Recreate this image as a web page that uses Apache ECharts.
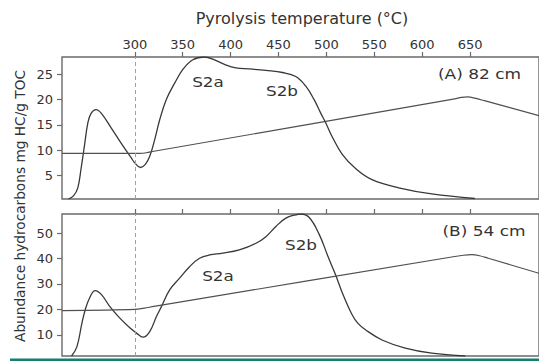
<!DOCTYPE html>
<html>
<head>
<meta charset="utf-8">
<script src="https://cdn.jsdelivr.net/npm/echarts@6/dist/echarts.min.js"></script>
<style>
  html, body { margin: 0; padding: 0; background: #fff; }
  #chart { width: 539px; height: 362px; }
</style>
</head>
<body>
<div id="chart"></div>
<script>
// Temperature ticks shared by both panels (°C)
const tempTicks = [300, 350, 400, 450, 500, 550, 600, 650];
const ticksA = [5, 10, 15, 20, 25];
const ticksB = [10, 20, 30, 40, 50];

// (A) 82 cm — pyrolysis signal
const tempA = [230.7, 236, 240.5, 244, 247.6, 251, 254.5, 259.6, 264.9, 275.3, 285.7, 296, 300, 306, 311, 315.6,
  320.8, 326, 332.9, 341.6, 350.2, 360.6, 372.8, 383.2, 393.6, 405.7, 419.5, 436.9, 454.2, 468.1, 478.5, 487.1,
  494.1, 499.3, 506.2, 516.6, 530.5, 547.7, 575.5, 610, 655];
const signalA = [0.4, 1.0, 2.6, 6.5, 11.1, 15.4, 17.3, 18.0, 17.3, 14.4, 11.4, 8.6, 7.5, 6.6, 7.2, 8.8,
  12.1, 16.0, 20.0, 23.2, 25.9, 27.8, 28.35, 27.8, 26.9, 26.2, 26.0, 25.7, 25.3, 24.5, 22.6, 20.0,
  17.3, 15.4, 12.6, 9.2, 6.4, 4.2, 2.6, 1.4, 0.5];

// (A) 82 cm — oven temperature trace
const traceTempA = [224, 305, 312, 320, 634, 641, 648, 655, 665, 722];
const traceValA = [9.4, 9.4, 9.5, 9.8, 20.1, 20.4, 20.5, 20.25, 19.75, 16.8];

// (B) 54 cm — pyrolysis signal
const tempB = [234, 239.6, 244.8, 248.2, 252.7, 258.6, 265, 274.2, 284.4, 294.8, 301.8, 308.6, 315.6, 322.6,
  327.8, 336.4, 346.8, 357.2, 367.6, 378, 391.8, 409.1, 426.5, 436.9, 447.3, 457.7, 468.1, 473.3, 481.9,
  492.3, 501.5, 509.6, 516.5, 526.9, 533, 540.8, 558.1, 582.4, 610, 645];
const signalB = [1.7, 5.4, 14.6, 19.8, 24.4, 27.4, 25.9, 21.0, 16.6, 12.8, 10.7, 9.1, 11.3, 17.2,
  21.1, 27.7, 32.3, 36.8, 40.1, 41.4, 42.1, 43.4, 46.0, 48.6, 52.6, 55.9, 57.2, 57.5, 56.2,
  49.7, 41.0, 33.6, 26.7, 17.9, 14.5, 12.0, 8.0, 4.8, 2.8, 1.7];

// (B) 54 cm — oven temperature trace
const traceTempB = [224, 300, 310, 320, 634, 643, 651.7, 660, 669, 722];
const traceValB = [19.5, 20.0, 20.5, 21.2, 40.8, 41.3, 41.5, 41.1, 40.1, 34.2];

const pair = (xs, ys) => xs.map((x, i) => [x, ys[i]]);

const FONT = 'DejaVu Sans';
const TEXT = '#333';
const FRAME = '#6a6a6a';

function xAxisFor(gridIndex, withLabels) {
  return {
    type: 'value', gridIndex, position: 'top', min: 224, max: 722,
    axisLine: { show: false },
    splitLine: { show: false },
    axisTick: { show: true, inside: false, length: 5, customValues: tempTicks,
      lineStyle: { color: FRAME, width: 1.2 } },
    axisLabel: { show: withLabels, customValues: tempTicks, margin: 6,
      fontFamily: FONT, fontSize: 13, color: TEXT }
  };
}

function yAxisFor(gridIndex, min, max, ticks) {
  return {
    type: 'value', gridIndex, min, max,
    axisLine: { show: false },
    splitLine: { show: false },
    axisTick: { show: true, inside: false, length: 5, customValues: ticks,
      lineStyle: { color: FRAME, width: 1.2 } },
    axisLabel: { customValues: ticks, margin: 9, fontFamily: FONT, fontSize: 13, color: TEXT }
  };
}

const dashed300 = {
  silent: true, symbol: ['none', 'none'], animation: false,
  label: { show: false },
  lineStyle: { type: [4, 3], color: '#a0a0a0', width: 1 },
  data: [{ xAxis: 300 }]
};

function curve(xi, data, color, width, smooth, extra) {
  return Object.assign({
    type: 'line', xAxisIndex: xi, yAxisIndex: xi, data,
    showSymbol: false, smooth, animation: false,
    lineStyle: { color, width }
  }, extra || {});
}

function label(text, x, y, size, sx) {
  return {
    type: 'text', x, y, scaleX: sx || 1, silent: true,
    style: { text, fontFamily: FONT, fontSize: size, fill: TEXT,
      textAlign: 'center', textVerticalAlign: 'middle' }
  };
}

const chart = echarts.init(document.getElementById('chart'), null, { renderer: 'svg' });
chart.setOption({
  backgroundColor: '#fff',
  animation: false,
  grid: [
    { left: 62, right: -2, top: 57, height: 142, show: true, borderColor: FRAME, borderWidth: 1.4 },
    { left: 62, right: -2, top: 214, height: 142, show: true, borderColor: FRAME, borderWidth: 1.4 }
  ],
  xAxis: [xAxisFor(0, true), xAxisFor(1, false)],
  yAxis: [yAxisFor(0, 0.4, 28.35, ticksA), yAxisFor(1, 1.7, 57.5, ticksB)],
  series: [
    curve(0, pair(tempA, signalA), '#383838', 1.3, 0.4, { markLine: dashed300 }),
    curve(0, pair(traceTempA, traceValA), '#505050', 1.2, 0.3),
    curve(1, pair(tempB, signalB), '#383838', 1.3, 0.4, { markLine: dashed300 }),
    curve(1, pair(traceTempB, traceValB), '#505050', 1.2, 0.3)
  ],
  graphic: [
    label('Pyrolysis temperature (°C)', 302, 18, 16),
    {
      type: 'text', x: 19.5, y: 206, rotation: Math.PI / 2, silent: true,
      style: { text: 'Abundance hydrocarbons mg HC/g TOC', fontFamily: FONT, fontSize: 13.7,
        fill: TEXT, textAlign: 'center', textVerticalAlign: 'middle' }
    },
    label('(A) 82 cm', 479.5, 74, 14.5, 1.17),
    label('(B) 54 cm', 484, 231, 14.5, 1.17),
    label('S2a', 208, 82, 14, 1.2),
    label('S2b', 282, 91, 14, 1.2),
    label('S2b', 301, 245.5, 14, 1.2),
    label('S2a', 218, 276, 14, 1.2),
    {
      type: 'rect', silent: true,
      shape: { x: 10, y: 358.5, width: 529, height: 2.6 },
      style: { fill: '#15806f' }
    }
  ]
});
</script>
</body>
</html>
